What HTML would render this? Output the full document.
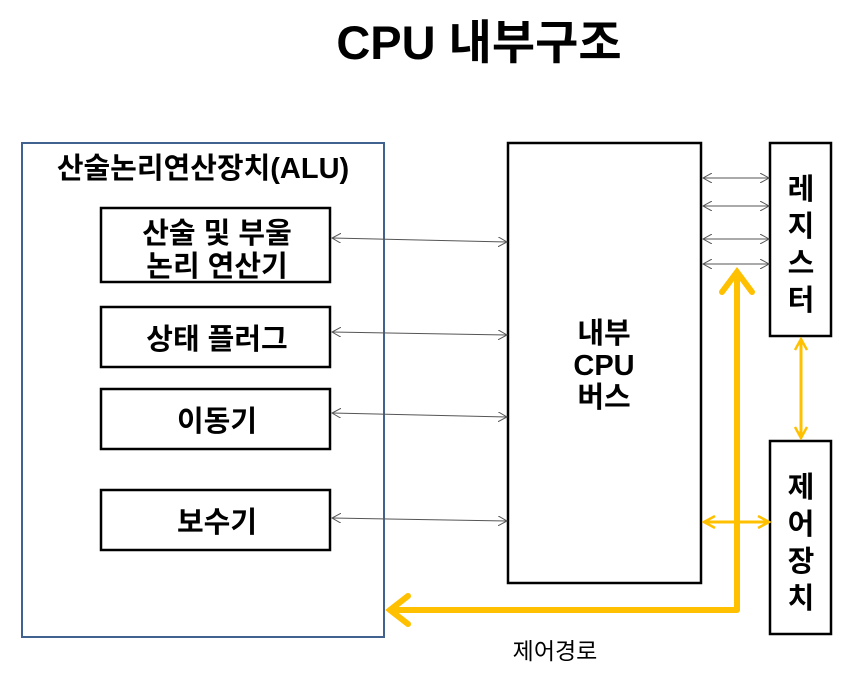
<!DOCTYPE html>
<html><head><meta charset="utf-8"><style>
html,body{margin:0;padding:0;background:#fff;}
svg text{font-family:"Liberation Sans","Noto Sans CJK KR","NanumGothic",sans-serif;font-weight:bold;fill:#000;}
</style></head><body>
<svg width="867" height="678" viewBox="0 0 867 678" xmlns="http://www.w3.org/2000/svg">
<defs>
<marker id="a" markerWidth="10" markerHeight="10" refX="9" refY="5" orient="auto-start-reverse" markerUnits="userSpaceOnUse"><path d="M0,0 L9,5 L0,10" fill="none" stroke="#555" stroke-width="1"/></marker>
<marker id="y" markerWidth="14" markerHeight="14" refX="12" refY="7" orient="auto-start-reverse" markerUnits="userSpaceOnUse"><path d="M1,1 L12,7 L1,13" fill="none" stroke="#FFC000" stroke-width="2.5"/></marker>
</defs>
<text x="479" y="59" font-size="47" text-anchor="middle">CPU 내부구조</text>
<rect x="22" y="143" width="362" height="494" fill="none" stroke="#41618f" stroke-width="2"/>
<text x="203" y="178" font-size="29" text-anchor="middle">산술논리연산장치(ALU)</text>
<g fill="none" stroke="#000" stroke-width="2.5">
<rect x="101" y="208" width="229" height="74"/>
<rect x="101" y="307" width="229" height="60"/>
<rect x="101" y="389" width="229" height="60"/>
<rect x="101" y="490" width="229" height="60"/>
<rect x="508" y="143" width="193" height="440"/>
<rect x="770" y="143" width="61" height="193"/>
<rect x="770" y="441" width="61" height="193"/>
</g>
<g font-size="29" text-anchor="middle">
<text x="217" y="243">산술 및 부울</text>
<text x="217" y="276">논리 연산기</text>
<text x="217" y="349">상태 플러그</text>
<text x="217" y="431">이동기</text>
<text x="217" y="532">보수기</text>
<text x="604" y="343">내부</text>
<text x="604" y="375">CPU</text>
<text x="604" y="407">버스</text>
<text x="801" y="199">레</text>
<text x="801" y="236">지</text>
<text x="801" y="273">스</text>
<text x="801" y="310">터</text>
<text x="801" y="497">제</text>
<text x="801" y="534">어</text>
<text x="801" y="571">장</text>
<text x="801" y="608">치</text>
</g>
<text x="555" y="659" font-size="23" text-anchor="middle" style="font-weight:normal">제어경로</text>
<g stroke="#555" stroke-width="1" marker-start="url(#a)" marker-end="url(#a)">
<line x1="332" y1="238" x2="507" y2="242"/>
<line x1="332" y1="332" x2="507" y2="335"/>
<line x1="332" y1="413" x2="507" y2="417"/>
<line x1="332" y1="518" x2="507" y2="521"/>
<line x1="703" y1="178" x2="769" y2="178"/>
<line x1="703" y1="206" x2="769" y2="206"/>
<line x1="703" y1="239" x2="769" y2="239"/>
<line x1="703" y1="264" x2="769" y2="264"/>
</g>
<g fill="none" stroke="#FFC000">
<path d="M737,272 L737,610 L390,610" stroke-width="6" stroke-linejoin="round"/>
<path d="M722,292 L737,272 L752,292" stroke-width="6" stroke-linecap="round"/>
<path d="M408,596 L390,610 L408,624" stroke-width="6" stroke-linecap="round"/>
<line x1="704" y1="522" x2="769" y2="522" stroke-width="3" marker-start="url(#y)" marker-end="url(#y)"/>
<line x1="801" y1="339" x2="801" y2="438" stroke-width="3" marker-start="url(#y)" marker-end="url(#y)"/>
</g>
</svg>
</body></html>
